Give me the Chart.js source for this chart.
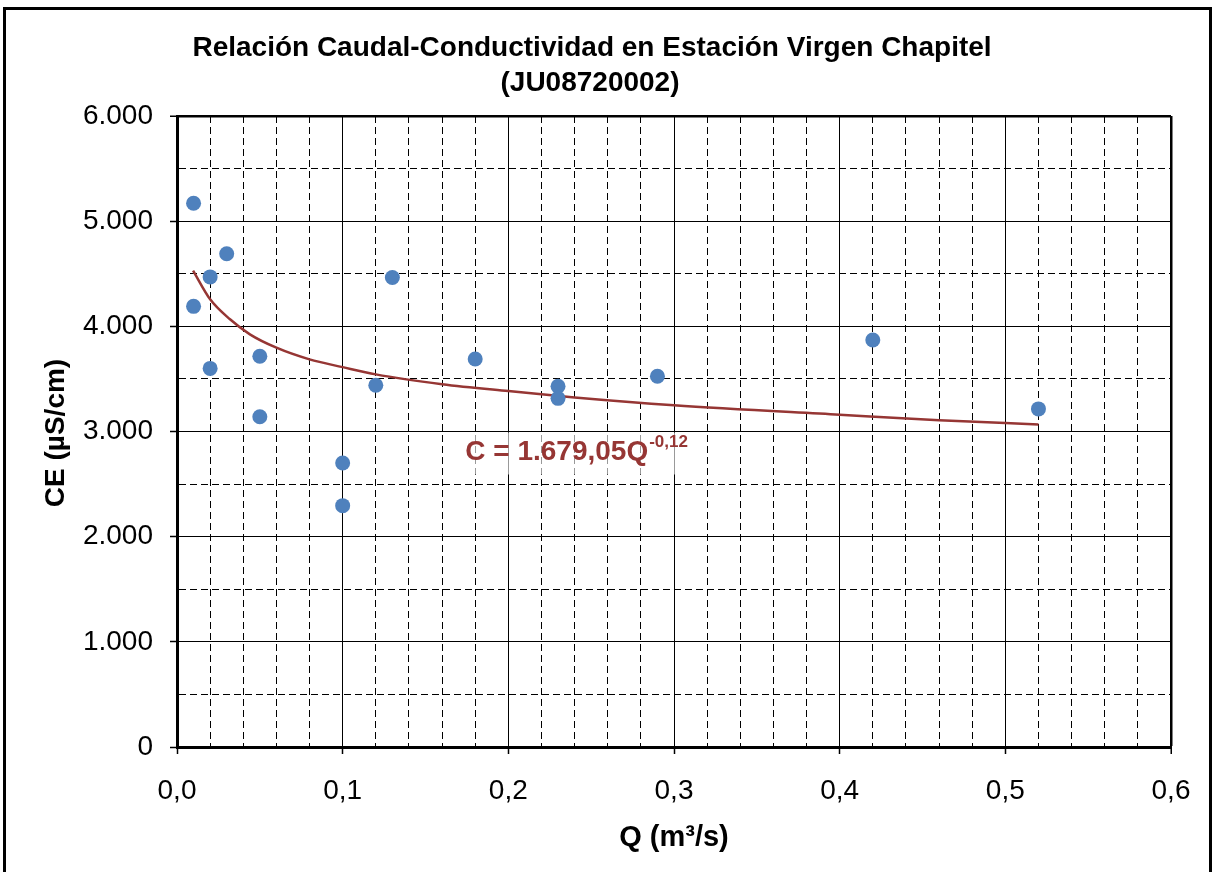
<!DOCTYPE html>
<html>
<head>
<meta charset="utf-8">
<script src="https://cdn.jsdelivr.net/npm/chart.js@4.4.1/dist/chart.umd.min.js"></script>
<style>
  html, body { margin: 0; padding: 0; background: #fff; }
  #wrap { width: 1213px; height: 872px; }
</style>
</head>
<body>
<div id="wrap"><canvas id="grafico" width="1213" height="872"></canvas></div>
<script>
// Dati
const caudalQ = [0.01, 0.01, 0.02, 0.02, 0.03, 0.05, 0.05, 0.10, 0.10, 0.12, 0.13, 0.18, 0.23, 0.23, 0.29, 0.42, 0.52];
const conductividadCE = [5170, 4190, 4470, 3600, 4690, 3715, 3140, 2700, 2295, 3440, 4465, 3690, 3430, 3315, 3525, 3870, 3215];

// Linea di tendenza (potenza) letta punto per punto
const tendenciaQ = [0.0097, 0.02, 0.032, 0.044, 0.06, 0.08, 0.10, 0.12, 0.16, 0.20, 0.24, 0.30, 0.40, 0.46, 0.52];
const tendenciaCE = [4530, 4257, 4067, 3924, 3797, 3686, 3612, 3543, 3450, 3384, 3324, 3250, 3160, 3108, 3067];

const titolo = ['Relación Caudal-Conductividad en Estación Virgen Chapitel', '(JU08720002)'];
const titoloX = 'Q (m³/s)';
const titoloY = 'CE (µS/cm)';
const ecuacion = 'C = 1.679,05Q';
const ecuacionExp = '-0,12';

const FONT = '"Liberation Sans", Arial, sans-serif';

const puntiDispersione = caudalQ.map((q, i) => ({ x: q, y: conductividadCE[i] }));
const puntiTendenza = tendenciaQ.map((q, i) => ({ x: q, y: tendenciaCE[i] }));

const isMaggioreX = v => Math.abs(v * 10 - Math.round(v * 10)) < 1e-6;
const isMaggioreY = v => Math.abs(v % 1000) < 1e-6;

// Plugin per titolo, etichette degli assi, equazione e cornice esterna
const pluginTesti = {
    id: 'testiGrafico',
    beforeDatasetsDraw: (chart) => {
        const ctx = chart.ctx;
        const xS = chart.scales.x, yS = chart.scales.y;
        const x0 = xS.getPixelForValue(0.170);
        const y0 = yS.getPixelForValue(3000);
        ctx.save();
        ctx.fillStyle = 'rgba(255,255,255,0.6)';
        ctx.fillRect(x0, y0 + 1, 240, 42);
        ctx.restore();
    },
    afterDraw: (chart) => {
        const ctx = chart.ctx;
        const xS = chart.scales.x, yS = chart.scales.y;
        ctx.save();
        ctx.fillStyle = '#000';
        ctx.textAlign = 'center';
        ctx.textBaseline = 'middle';
        ctx.font = 'bold 28px ' + FONT;
        ctx.fillText(titolo[0], 592, 48);
        ctx.fillText(titolo[1], 590, 83);

        ctx.font = 'bold 29px ' + FONT;
        ctx.fillText(titoloX, 674, 838);

        ctx.save();
        ctx.translate(56, 433);
        ctx.rotate(-Math.PI / 2);
        ctx.font = 'bold 28px ' + FONT;
        ctx.fillText(titoloY, 0, 0);
        ctx.restore();

        // equazione della tendenza
        const ex = xS.getPixelForValue(0.174);
        const ey = yS.getPixelForValue(2850);
        ctx.fillStyle = '#963634';
        ctx.textAlign = 'left';
        ctx.textBaseline = 'alphabetic';
        ctx.font = 'bold 28px ' + FONT;
        ctx.fillText(ecuacion, ex, ey + 13);
        const w = ctx.measureText(ecuacion).width;
        ctx.font = 'bold 17px ' + FONT;
        ctx.fillText(ecuacionExp, ex + w + 1, ey);

        // cornice esterna
        ctx.strokeStyle = '#000';
        ctx.lineWidth = 3;
        ctx.strokeRect(4.5, 8.5, 1206, 900);
        ctx.restore();
    }
};

new Chart(document.getElementById('grafico'), {
    type: 'scatter',
    data: {
        datasets: [
            {
                label: 'CE',
                data: puntiDispersione,
                backgroundColor: '#4F81BD',
                borderColor: '#4F81BD',
                borderWidth: 0,
                pointRadius: 7.5,
                pointHoverRadius: 7.5,
                order: 0
            },
            {
                label: 'Tendencia',
                data: puntiTendenza,
                showLine: true,
                borderColor: '#963634',
                backgroundColor: '#963634',
                borderWidth: 2.5,
                pointRadius: 0,
                cubicInterpolationMode: 'monotone',
                order: 1
            }
        ]
    },
    options: {
        responsive: false,
        animation: false,
        events: [],
        layout: { padding: { top: 116, right: 42, bottom: 0, left: 0 } },
        plugins: {
            legend: { display: false },
            title: { display: false },
            tooltip: { enabled: false }
        },
        scales: {
            x: {
                type: 'linear',
                min: 0,
                max: 0.6,
                afterFit: (scale) => { scale.height = 125; },
                border: {
                    display: true, color: '#000', width: 3,
                    dash: (c) => (c.tick && !isMaggioreX(c.tick.value)) ? [7, 4] : []
                },
                grid: {
                    color: '#000',
                    lineWidth: (c) => (c.tick && Math.abs(c.tick.value - 0.6) < 1e-6) ? 2.5 : 1,
                    tickLength: 7,
                    tickColor: (c) => (c.tick && isMaggioreX(c.tick.value)) ? '#000' : 'rgba(0,0,0,0)',
                    tickWidth: 1.5
                },
                ticks: {
                    stepSize: 0.02,
                    autoSkip: false,
                    maxRotation: 0,
                    padding: 20,
                    color: '#000',
                    font: { family: FONT, size: 28 },
                    callback: (v) => isMaggioreX(v) ? v.toFixed(1).replace('.', ',') : ''
                }
            },
            y: {
                type: 'linear',
                min: 0,
                max: 6000,
                afterFit: (scale) => { scale.width = 177; },
                border: {
                    display: true, color: '#000', width: 3,
                    dash: (c) => (c.tick && !isMaggioreY(c.tick.value)) ? [7, 4] : []
                },
                grid: {
                    color: '#000',
                    lineWidth: (c) => (c.tick && c.tick.value === 6000) ? 2.5 : 1,
                    tickLength: 7,
                    tickColor: (c) => (c.tick && isMaggioreY(c.tick.value)) ? '#000' : 'rgba(0,0,0,0)',
                    tickWidth: 1.5
                },
                ticks: {
                    stepSize: 500,
                    autoSkip: false,
                    padding: 17,
                    color: '#000',
                    font: { family: FONT, size: 28 },
                    callback: (v) => {
                        if (!isMaggioreY(v)) return '';
                        return v === 0 ? '0' : (v / 1000) + '.000';
                    }
                }
            }
        }
    },
    plugins: [pluginTesti]
});
</script>
</body>
</html>
